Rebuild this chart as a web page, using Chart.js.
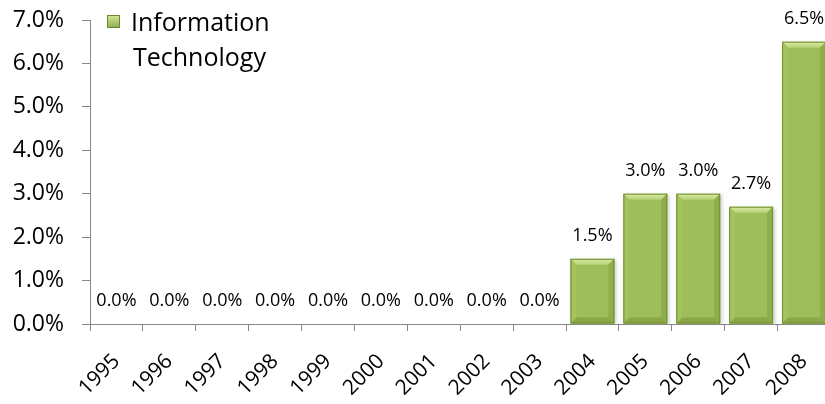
<!DOCTYPE html>
<html>
<head>
<meta charset="utf-8">
<script src="https://cdn.jsdelivr.net/npm/chart.js@4.4.0/dist/chart.umd.min.js"></script>
<style>
html, body { margin: 0; padding: 0; background: #fff; overflow: hidden; }
</style>
</head>
<body>
<canvas id="c" width="840" height="404"></canvas>
<script>
const years = ['1995', '1996', '1997', '1998', '1999', '2000', '2001',
               '2002', '2003', '2004', '2005', '2006', '2007', '2008'];
const itShare = [0, 0, 0, 0, 0, 0, 0, 0, 0, 1.5, 3.0, 3.0, 2.7, 6.5];
const yTicks = [0, 1, 2, 3, 4, 5, 6, 7];
const legendLines = ['Information', 'Technology'];

const FONT = '"Open Sans", sans-serif';
const AXIS = '#868686';

// bevelled look of the bars, drawn on top of the plain bars
const bevel = {
    id: 'bevel',
    beforeDatasetsDraw(chart) {
        const ctx = chart.ctx;
        ctx.save();
        ctx.shadowColor = 'rgba(0,0,0,0.2)';
        ctx.shadowBlur = 4;
        ctx.shadowOffsetX = 2;
        ctx.shadowOffsetY = 1;
    },
    afterDatasetsDraw(chart) {
        const ctx = chart.ctx;
        ctx.restore();
        ctx.save();
        chart.getDatasetMeta(0).data.forEach((bar, i) => {
            if (!itShare[i]) return;
            const l = bar.x - bar.width / 2, r = bar.x + bar.width / 2;
            const t = bar.y, b = bar.base, s = 6;
            const poly = (pts, fill) => {
                ctx.beginPath();
                ctx.moveTo(pts[0][0], pts[0][1]);
                pts.slice(1).forEach(p => ctx.lineTo(p[0], p[1]));
                ctx.closePath();
                ctx.fillStyle = fill;
                ctx.fill();
            };
            const g = ctx.createLinearGradient(0, t, 0, t + s);
            g.addColorStop(0, '#d8eba6');
            g.addColorStop(1, '#b8d275');
            poly([[l, t], [r, t], [r - s, t + s], [l + s, t + s]], g);
            poly([[l, t], [l + s, t + s], [l + s, b - s], [l, b]], '#a4c260');
            poly([[r, t], [r - s, t + s], [r - s, b - s], [r, b]], '#8fad4b');
            poly([[l, b], [l + s, b - s], [r - s, b - s], [r, b]], '#8aa646');
            ctx.strokeStyle = '#72902f';
            ctx.lineWidth = 1;
            ctx.strokeRect(l + 0.5, t + 0.5, r - l - 1, b - t - 1);
        });
        ctx.restore();
    }
};

// value labels above each bar
const valueLabels = {
    id: 'valueLabels',
    afterDatasetsDraw(chart) {
        const ctx = chart.ctx;
        ctx.save();
        ctx.font = '18px ' + FONT;
        ctx.fillStyle = '#000';
        ctx.textAlign = 'center';
        ctx.textBaseline = 'middle';
        chart.getDatasetMeta(0).data.forEach((bar, i) => {
            ctx.fillText(itShare[i].toFixed(1) + '%', bar.x, bar.y - 23);
        });
        ctx.restore();
    }
};

// legend inside the plot, label wrapped on two lines
const innerLegend = {
    id: 'innerLegend',
    afterDraw(chart) {
        const ctx = chart.ctx;
        ctx.save();
        const g = ctx.createLinearGradient(107, 15, 107, 28);
        g.addColorStop(0, '#d2e79c');
        g.addColorStop(1, '#8fad4a');
        ctx.fillStyle = g;
        ctx.fillRect(107, 15, 13, 13);
        ctx.strokeStyle = '#6e8a30';
        ctx.strokeRect(107.5, 15.5, 12, 12);
        ctx.font = '25px ' + FONT;
        ctx.fillStyle = '#000';
        ctx.textBaseline = 'alphabetic';
        ctx.fillText(legendLines[0], 131, 31);
        ctx.fillText(legendLines[1], 133, 66);
        ctx.restore();
    }
};

new Chart(document.getElementById('c'), {
    type: 'bar',
    data: {
        labels: years,
        datasets: [{
            label: legendLines.join(' '),
            data: itShare,
            backgroundColor: '#9ebd5b',
            borderWidth: 0,
            barPercentage: 0.83,
            categoryPercentage: 1
        }]
    },
    options: {
        responsive: false,
        animation: false,
        layout: { padding: { top: 20, right: 5, left: 0, bottom: 0 } },
        plugins: {
            legend: { display: false },
            tooltip: { enabled: false }
        },
        scales: {
            x: {
                afterFit(scale) { scale.height = 80; },
                border: { display: true, color: AXIS, width: 1 },
                grid: { drawOnChartArea: false, drawTicks: true, tickLength: 7, color: AXIS, offset: true },
                ticks: {
                    autoSkip: false,
                    minRotation: 45,
                    maxRotation: 45,
                    padding: 18,
                    color: '#000',
                    font: { family: FONT, size: 21 }
                }
            },
            y: {
                min: 0,
                max: 7,
                afterFit(scale) {
                    scale.width = 90;
                    scale.paddingTop = 0;
                    scale.paddingBottom = 0;
                },
                afterBuildTicks(scale) { scale.ticks = yTicks.map(v => ({ value: v })); },
                border: { display: true, color: AXIS, width: 1 },
                grid: { drawOnChartArea: false, drawTicks: true, tickLength: 8, color: AXIS },
                ticks: {
                    padding: 18,
                    color: '#000',
                    font: { family: FONT, size: 23 },
                    callback: v => v.toFixed(1) + '%'
                }
            }
        }
    },
    plugins: [bevel, valueLabels, innerLegend]
});
</script>
</body>
</html>
